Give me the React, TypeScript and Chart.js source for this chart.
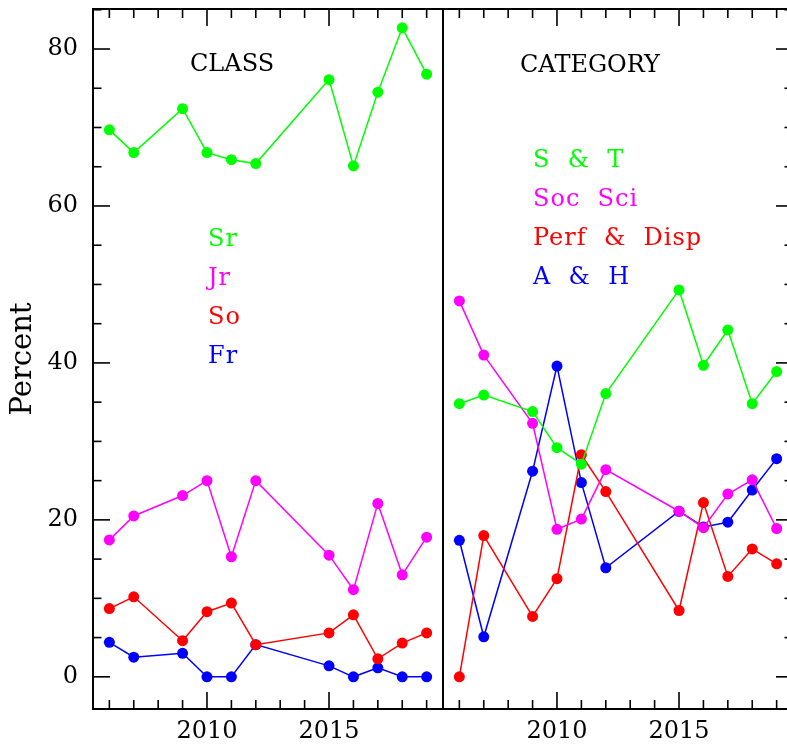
import React, { useEffect, useRef } from 'react';
import { Chart, registerables } from 'chart.js';
Chart.register(...registerables);

const years = [2006, 2007, 2009, 2010, 2011, 2012, 2015, 2016, 2017, 2018, 2019];

const classSr = [69.7, 66.8, 72.4, 66.8, 65.9, 65.4, 76.1, 65.1, 74.5, 82.7, 76.8];
const classJr = [17.45, 20.5, 23.1, 25.0, 15.3, 25.0, 15.5, 11.1, 22.1, 13.0, 17.8];
const classSo = [8.7, 10.2, 4.6, 8.3, 9.4, 4.1, 5.6, 7.9, 2.3, 4.3, 5.6];
const classFr = [4.4, 2.5, 3.0, 0, 0, 4.1, 1.4, 0, 1.15, 0, 0];

const catST = [34.8, 35.9, 33.8, 29.2, 27.1, 36.1, 49.3, 39.7, 44.2, 34.8, 38.9];
const catSoc = [47.9, 41.0, 32.3, 18.8, 20.1, 26.4, 21.1, 19.0, 23.3, 25.1, 18.9];
const catPerf = [0, 18.0, 7.7, 12.5, 28.3, 23.6, 8.45, 22.2, 12.8, 16.3, 14.4];
const catAH = [17.4, 5.1, 26.2, 39.6, 24.75, 13.9, 21.1, 19.1, 19.7, 23.8, 27.8];

const classLabels = ['Sr', 'Jr', 'So', 'Fr'];
const catLabels = ['S  &  T', 'Soc  Sci', 'Perf  &  Disp', 'A  &  H'];
const seriesColors = ['#00ff00', '#ff00ff', '#ff0000', '#0000ff'];

const yTickValues = [0, 20, 40, 60, 80];
const xTickValues = [2010, 2015];

const FONT = 'DejaVu Serif';
const X_MIN = 2005.33;
const X_MAX = 2019.67;
const Y_MIN = -4.1;
const Y_MAX = 85.1;

type PanelCfg = {
  side: 'left' | 'right';
  title: string;
  titleDx: number;
  titleY: number;
  labels: string[];
  legendDx: number;
  legendY0: number;
};

function makeFramePlugin(cfg: PanelCfg) {
  return {
    id: 'frameAndText',
    afterDraw(chart: any) {
      const { ctx, chartArea: a, scales } = chart;
      const xs = scales.x;
      const ys = scales.y;
      ctx.save();
      ctx.strokeStyle = '#000';
      ctx.lineWidth = 2;
      ctx.strokeRect(a.left, a.top, a.right - a.left, a.bottom - a.top);
      ctx.lineWidth = 1.6;
      const seg = (x1: number, y1: number, x2: number, y2: number) => {
        ctx.beginPath();
        ctx.moveTo(x1, y1);
        ctx.lineTo(x2, y2);
        ctx.stroke();
      };
      for (let yr = Math.ceil(xs.min); yr <= xs.max; yr++) {
        const px = xs.getPixelForValue(yr);
        const len = yr % 5 === 0 ? 17 : 9;
        seg(px, a.bottom, px, a.bottom - len);
        seg(px, a.top, px, a.top + len);
      }
      for (let v = 0; v <= ys.max; v += 5) {
        const py = ys.getPixelForValue(v);
        const len = v % 20 === 0 ? 17 : 8.5;
        if (cfg.side === 'left') seg(a.left, py, a.left + len, py);
        else seg(a.right, py, a.right - len, py);
      }
      ctx.font = `24px "${FONT}"`;
      ctx.textBaseline = 'alphabetic';
      ctx.textAlign = 'left';
      ctx.fillStyle = '#000';
      ctx.fillText(cfg.title, a.left + cfg.titleDx, cfg.titleY);
      try {
        (ctx as any).letterSpacing = '1px';
      } catch (e) {
        /* ignore */
      }
      cfg.labels.forEach((lab, i) => {
        ctx.fillStyle = seriesColors[i];
        ctx.fillText(lab, a.left + cfg.legendDx, cfg.legendY0 + i * 39);
      });
      try {
        (ctx as any).letterSpacing = '0px';
      } catch (e) {
        /* ignore */
      }
      ctx.restore();
    },
  };
}

function buildChart(canvas: HTMLCanvasElement, series: number[][], cfg: PanelCfg, showY: boolean, padLeft: number) {
  const tickFont = { family: FONT, size: 24 };
  const datasets = series.map((vals, i) => ({
    data: years.map((yr, j) => ({ x: yr, y: vals[j] })),
    borderColor: seriesColors[i],
    backgroundColor: seriesColors[i],
    pointBackgroundColor: seriesColors[i],
    pointBorderWidth: 0,
    pointRadius: 5.5,
    borderWidth: 1.5,
    tension: 0,
    fill: false,
  }));
  return new Chart(canvas, {
    type: 'line',
    data: { datasets },
    options: {
      animation: false,
      responsive: false,
      maintainAspectRatio: false,
      devicePixelRatio: 1,
      layout: { padding: { left: padLeft, right: 10, top: 9, bottom: 0 } },
      plugins: { legend: { display: false }, tooltip: { enabled: false } },
      scales: {
        x: {
          type: 'linear',
          min: X_MIN,
          max: X_MAX,
          grid: { display: false, drawTicks: false },
          border: { display: false },
          afterBuildTicks: (s: any) => {
            s.ticks = xTickValues.map((v) => ({ value: v }));
          },
          afterFit: (s: any) => {
            s.height = 40;
            s.paddingLeft = 0;
            s.paddingRight = 0;
          },
          ticks: {
            font: tickFont,
            color: '#000',
            padding: 8,
            maxRotation: 0,
            autoSkip: false,
            callback: (v: any) => String(v),
          },
        },
        y: {
          type: 'linear',
          display: showY,
          min: Y_MIN,
          max: Y_MAX,
          grid: { display: false, drawTicks: false },
          border: { display: false },
          afterBuildTicks: (s: any) => {
            s.ticks = yTickValues.map((v) => ({ value: v }));
          },
          afterFit: (s: any) => {
            s.width = showY ? 93 : 0;
            s.paddingTop = 0;
            s.paddingBottom = 0;
          },
          ticks: {
            font: tickFont,
            color: '#000',
            padding: 15,
            autoSkip: false,
            callback: (v: any) => String(v),
          },
          title: {
            display: true,
            text: 'Percent',
            color: '#000',
            font: { family: FONT, size: 29 },
            padding: { top: 6, bottom: 0 },
          },
        },
      },
    },
    plugins: [makeFramePlugin(cfg)],
  } as any);
}

export default function App() {
  const leftRef = useRef<HTMLCanvasElement>(null);
  const rightRef = useRef<HTMLCanvasElement>(null);

  useEffect(() => {
    const c1 = buildChart(
      leftRef.current!,
      [classSr, classJr, classSo, classFr],
      { side: 'left', title: 'CLASS', titleDx: 97, titleY: 71, labels: classLabels, legendDx: 115, legendY0: 246 },
      true,
      0
    );
    const c2 = buildChart(
      rightRef.current!,
      [catST, catSoc, catPerf, catAH],
      { side: 'right', title: 'CATEGORY', titleDx: 77, titleY: 72, labels: catLabels, legendDx: 90, legendY0: 167 },
      false,
      10
    );
    return () => {
      c1.destroy();
      c2.destroy();
    };
  }, []);

  return (
    <div style={{ position: 'fixed', left: 0, top: 0, width: 787, height: 749, overflow: 'hidden', background: '#fff' }}>
      <canvas ref={leftRef} width={453} height={749} style={{ position: 'absolute', left: 0, top: 0, width: 453, height: 749 }} />
      <canvas ref={rightRef} width={370} height={749} style={{ position: 'absolute', left: 433, top: 0, width: 370, height: 749 }} />
    </div>
  );
}
